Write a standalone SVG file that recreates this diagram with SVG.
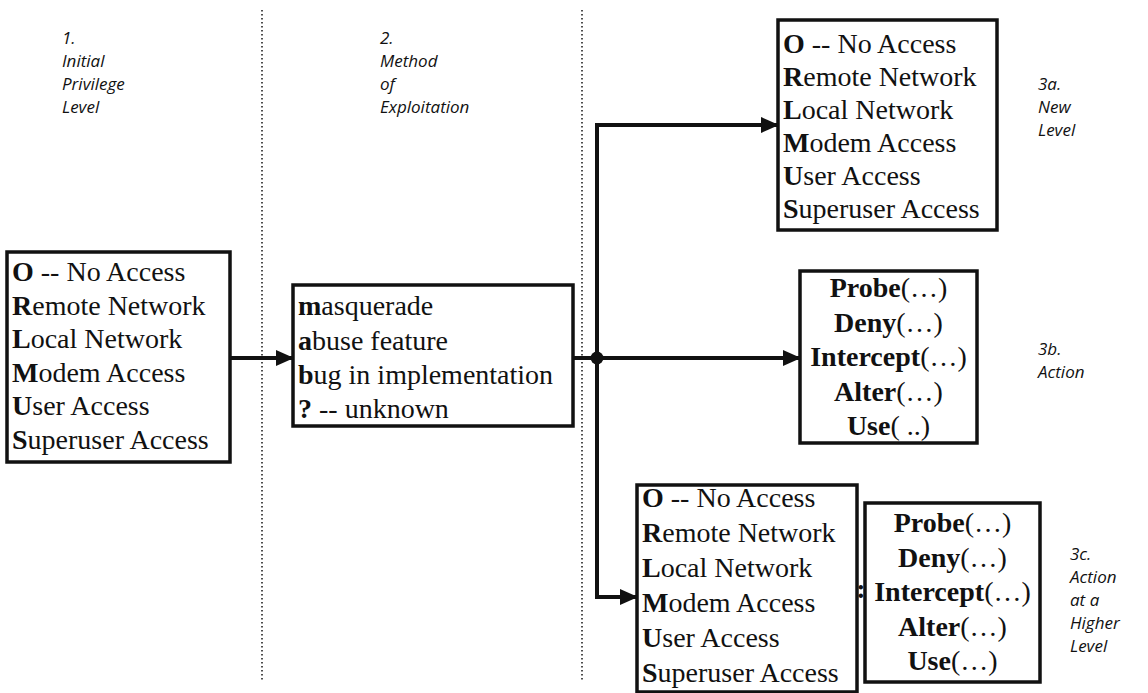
<svg xmlns="http://www.w3.org/2000/svg" width="1148" height="693" viewBox="0 0 1148 693">
  <style>
    .box { fill: #fff; stroke: #111; stroke-width: 3.5; }
    .item, .act { font-family: "Liberation Serif", "Times New Roman", Times, "DejaVu Serif", serif; font-weight: normal; font-size: 28px; fill: #111; }
    .act { text-anchor: middle; }
    .b { font-weight: bold; }
    .lbl { font-family: "Open Sans", "DejaVu Sans", sans-serif; font-style: italic; font-size: 17px; fill: #111; }
    .sep { stroke: #222; stroke-width: 1.6; stroke-dasharray: 1.6 2.4; fill: none; }
    .wire { stroke: #111; stroke-width: 4; fill: none; }
  </style>
  <defs>
    <marker id="arrow" markerUnits="userSpaceOnUse" markerWidth="18" markerHeight="18" viewBox="0 0 18 18" refX="17" refY="9" orient="auto">
      <path d="M0,1 L18,9 L0,17 Z" fill="#111"/>
    </marker>
  </defs>
  <rect width="1148" height="693" fill="#fff"/>

  <!-- stage separators -->
  <g id="separators">
    <line class="sep" x1="262" y1="10" x2="262" y2="680"/>
    <line class="sep" x1="582" y1="10" x2="582" y2="680"/>
  </g>

  <!-- stage captions -->
  <g id="caption-1" class="lbl">
    <text x="62" y="44">1.</text>
    <text x="62" y="67">Initial</text>
    <text x="62" y="90">Privilege</text>
    <text x="62" y="113">Level</text>
  </g>
  <g id="caption-2" class="lbl">
    <text x="380" y="44">2.</text>
    <text x="380" y="67">Method</text>
    <text x="380" y="90">of</text>
    <text x="380" y="113">Exploitation</text>
  </g>
  <g id="caption-3a" class="lbl">
    <text x="1038" y="90">3a.</text>
    <text x="1038" y="113">New</text>
    <text x="1038" y="136">Level</text>
  </g>
  <g id="caption-3b" class="lbl">
    <text x="1038" y="355">3b.</text>
    <text x="1038" y="378">Action</text>
  </g>
  <g id="caption-3c" class="lbl">
    <text x="1070" y="560">3c.</text>
    <text x="1070" y="583">Action</text>
    <text x="1070" y="606">at a</text>
    <text x="1070" y="629">Higher</text>
    <text x="1070" y="652">Level</text>
  </g>

  <!-- connectors -->
  <g id="connectors">
    <path class="wire" d="M230,358 H293" marker-end="url(#arrow)"/>
    <path class="wire" d="M573,358 H800" marker-end="url(#arrow)"/>
    <path class="wire" d="M597,358 V125 H778" marker-end="url(#arrow)"/>
    <path class="wire" d="M597,358 V597 H637" marker-end="url(#arrow)"/>
    <circle cx="597" cy="358" r="6.5" fill="#111"/>
  </g>

  <!-- 1. initial privilege level -->
  <g id="initial-level">
    <rect class="box" x="7" y="252" width="223" height="210"/>
    <text class="item" x="12" y="281"><tspan class="b">O</tspan> -- No Access</text>
    <text class="item" x="12" y="314.5"><tspan class="b">R</tspan>emote Network</text>
    <text class="item" x="12" y="348"><tspan class="b">L</tspan>ocal Network</text>
    <text class="item" x="12" y="381.5"><tspan class="b">M</tspan>odem Access</text>
    <text class="item" x="12" y="415"><tspan class="b">U</tspan>ser Access</text>
    <text class="item" x="12" y="448.5"><tspan class="b">S</tspan>uperuser Access</text>
  </g>

  <!-- 2. method of exploitation -->
  <g id="method">
    <rect class="box" x="293" y="285" width="280" height="141"/>
    <text class="item" x="298" y="315"><tspan class="b">m</tspan>asquerade</text>
    <text class="item" x="298" y="349.5"><tspan class="b">a</tspan>buse feature</text>
    <text class="item" x="298" y="384"><tspan class="b">b</tspan>ug in implementation</text>
    <text class="item" x="298" y="418"><tspan class="b">?</tspan> -- unknown</text>
  </g>

  <!-- 3a. new level -->
  <g id="new-level">
    <rect class="box" x="778" y="20" width="219" height="210"/>
    <text class="item" x="783" y="53"><tspan class="b">O</tspan> -- No Access</text>
    <text class="item" x="783" y="86"><tspan class="b">R</tspan>emote Network</text>
    <text class="item" x="783" y="119"><tspan class="b">L</tspan>ocal Network</text>
    <text class="item" x="783" y="152"><tspan class="b">M</tspan>odem Access</text>
    <text class="item" x="783" y="185"><tspan class="b">U</tspan>ser Access</text>
    <text class="item" x="783" y="218"><tspan class="b">S</tspan>uperuser Access</text>
  </g>

  <!-- 3b. action -->
  <g id="action">
    <rect class="box" x="800" y="271" width="177" height="172"/>
    <text class="act" x="888.5" y="297"><tspan class="b">Probe</tspan>(…)</text>
    <text class="act" x="888.5" y="331.5"><tspan class="b">Deny</tspan>(…)</text>
    <text class="act" x="888.5" y="366"><tspan class="b">Intercept</tspan>(…)</text>
    <text class="act" x="888.5" y="400.5"><tspan class="b">Alter</tspan>(…)</text>
    <text class="act" x="888.5" y="435"><tspan class="b">Use</tspan>( ..)</text>
  </g>

  <!-- 3c. action at a higher level -->
  <g id="higher-level">
    <rect class="box" x="637" y="485" width="220" height="207"/>
    <text class="item" x="642" y="507"><tspan class="b">O</tspan> -- No Access</text>
    <text class="item" x="642" y="542"><tspan class="b">R</tspan>emote Network</text>
    <text class="item" x="642" y="577"><tspan class="b">L</tspan>ocal Network</text>
    <text class="item" x="642" y="612"><tspan class="b">M</tspan>odem Access</text>
    <text class="item" x="642" y="647"><tspan class="b">U</tspan>ser Access</text>
    <text class="item" x="642" y="682"><tspan class="b">S</tspan>uperuser Access</text>
    <text class="item b" x="861" y="598" text-anchor="middle">:</text>
  </g>
  <g id="higher-action">
    <rect class="box" x="865" y="503" width="175" height="179"/>
    <text class="act" x="952.5" y="532"><tspan class="b">Probe</tspan>(…)</text>
    <text class="act" x="952.5" y="566.5"><tspan class="b">Deny</tspan>(…)</text>
    <text class="act" x="952.5" y="601"><tspan class="b">Intercept</tspan>(…)</text>
    <text class="act" x="952.5" y="635.5"><tspan class="b">Alter</tspan>(…)</text>
    <text class="act" x="952.5" y="670"><tspan class="b">Use</tspan>(…)</text>
  </g>
</svg>
